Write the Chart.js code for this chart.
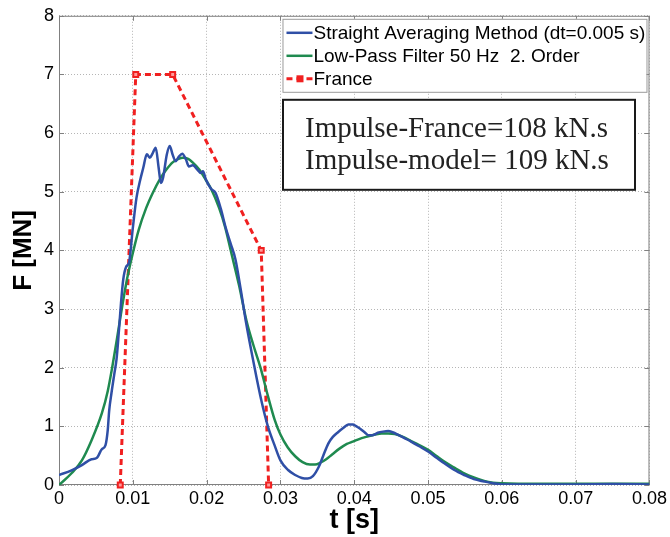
<!DOCTYPE html>
<html>
<head>
<meta charset="utf-8">
<script src="https://cdn.jsdelivr.net/npm/chart.js@4.4.0/dist/chart.umd.min.js"></script>
<style>
  html, body { margin: 0; padding: 0; background: #fff; }
  #wrap { width: 670px; height: 537px; }
</style>
</head>
<body>
<div id="wrap"><canvas id="forceChart"></canvas></div>
<script>
// time [s] / force [MN]
const avgTime = [0, 0.0017, 0.0031, 0.0044, 0.0051, 0.0058, 0.0063, 0.0066, 0.0068, 0.0071, 0.0075, 0.0078,
  0.0081, 0.0084, 0.0087, 0.0091, 0.0095, 0.0100, 0.0105, 0.0110, 0.0114, 0.0119, 0.0123, 0.0127, 0.0131,
  0.0135, 0.0138, 0.0141, 0.0146, 0.0150, 0.0154, 0.0158, 0.0162, 0.0167, 0.0172, 0.0176, 0.0181, 0.0188,
  0.0192, 0.0195, 0.0199, 0.0206, 0.0212, 0.0219, 0.0226, 0.0233, 0.0239, 0.0246, 0.0253, 0.0265, 0.0274,
  0.0283, 0.0292, 0.0300, 0.0310, 0.0320, 0.0329, 0.0337, 0.0344, 0.0352, 0.0358, 0.0365, 0.0371, 0.0378,
  0.0385, 0.0392, 0.0398, 0.0403, 0.0408, 0.0414, 0.0419, 0.0425, 0.0432, 0.0439, 0.0446, 0.0452, 0.0459,
  0.0468, 0.0477, 0.0488, 0.0500, 0.0511, 0.0522, 0.0535, 0.0549, 0.0562, 0.0576, 0.0588, 0.0600, 0.0650,
  0.0700, 0.0750, 0.0800];
const avgForce = [0.17, 0.25, 0.34, 0.44, 0.46, 0.61, 0.68, 0.93, 1.27, 1.56, 1.9, 2.15,
  2.6, 3.1, 3.5, 3.72, 3.8, 4.38, 4.9, 5.2, 5.4, 5.64, 5.58, 5.66, 5.75,
  5.41, 5.15, 5.24, 5.63, 5.78, 5.63, 5.52, 5.59, 5.65, 5.55, 5.43, 5.45, 5.37,
  5.32, 5.35, 5.21, 5.05, 4.98, 4.72, 4.38, 4.1, 3.85, 3.35, 2.8, 2.0, 1.45,
  1.0, 0.68, 0.42, 0.26, 0.17, 0.12, 0.11, 0.15, 0.31, 0.5, 0.71, 0.82, 0.9,
  0.97, 1.03, 1.03, 1.0, 0.96, 0.9, 0.85, 0.85, 0.89, 0.91, 0.92, 0.9, 0.86,
  0.8, 0.74, 0.66, 0.57, 0.47, 0.37, 0.26, 0.17, 0.1, 0.06, 0.03, 0.01, 0.01,
  0.01, 0.015, 0.01];

const lpfTime = [0, 0.0017, 0.0031, 0.0044, 0.0058, 0.0066, 0.0072, 0.0078, 0.0085, 0.0092, 0.0099, 0.0108,
  0.0118, 0.0127, 0.0136, 0.0145, 0.0154, 0.0162, 0.0168, 0.0175, 0.0181, 0.0190, 0.0199, 0.0206, 0.0217,
  0.0225, 0.0233, 0.0244, 0.0254, 0.0263, 0.0273, 0.0283, 0.0292, 0.0300, 0.0310, 0.0320, 0.0330, 0.0340,
  0.0347, 0.0354, 0.0362, 0.0370, 0.0380, 0.0390, 0.0398, 0.0410, 0.0419, 0.0428, 0.0437, 0.0446, 0.0455,
  0.0466, 0.0477, 0.0488, 0.0500, 0.0511, 0.0522, 0.0535, 0.0549, 0.0562, 0.0576, 0.0588, 0.0600, 0.0650,
  0.0700, 0.0750, 0.0800];
const lpfForce = [0, 0.2, 0.42, 0.76, 1.22, 1.6, 2.0, 2.45, 3.0, 3.5, 3.9, 4.35,
  4.72, 4.98, 5.2, 5.37, 5.5, 5.56, 5.58, 5.56, 5.5, 5.38, 5.2, 5.05, 4.72,
  4.4, 3.98, 3.4, 2.8, 2.4, 2.0, 1.52, 1.12, 0.86, 0.64, 0.49, 0.39, 0.35,
  0.35, 0.38, 0.44, 0.52, 0.62, 0.7, 0.74, 0.8, 0.83, 0.86, 0.88, 0.88, 0.87,
  0.82, 0.75, 0.68, 0.6, 0.5, 0.4, 0.3, 0.2, 0.13, 0.07, 0.04, 0.03, 0.02,
  0.02, 0.02, 0.02];

const franceTime = [0.0083, 0.0104, 0.0154, 0.0274, 0.0284];
const franceForce = [0, 7, 7, 4, 0];

const seriesLabels = ["Straight Averaging Method (dt=0.005 s)", "Low-Pass Filter 50 Hz  2. Order", "France"];
const impulseLines = ["Impulse-France=108 kN.s", "Impulse-model= 109 kN.s"];
const xTicks = [0, 0.01, 0.02, 0.03, 0.04, 0.05, 0.06, 0.07, 0.08];
const xTickLabels = ["0", "0.01", "0.02", "0.03", "0.04", "0.05", "0.06", "0.07", "0.08"];
const yTicks = [0, 1, 2, 3, 4, 5, 6, 7, 8];

const toPoints = (xs, ys) => xs.map((x, i) => ({ x, y: ys[i] }));

const SANS = "'Liberation Sans', Arial, sans-serif";
const SERIF = "'Liberation Serif', 'Times New Roman', serif";

// axes box with inward MATLAB style ticks
const frameBox = {
  id: "frameBox",
  beforeDatasetsDraw(chart) {
    const { ctx, chartArea: a, scales } = chart;
    ctx.save();
    ctx.strokeStyle = "#808080";
    ctx.lineWidth = 1;
    ctx.strokeRect(a.left + 0.5, a.top + 0.5, a.width - 1, a.height - 1);
    ctx.beginPath();
    xTicks.forEach(v => {
      const px = Math.round(scales.x.getPixelForValue(v)) + 0.5;
      ctx.moveTo(px, a.bottom); ctx.lineTo(px, a.bottom - 5);
      ctx.moveTo(px, a.top); ctx.lineTo(px, a.top + 5);
    });
    yTicks.forEach(v => {
      const py = Math.round(scales.y.getPixelForValue(v)) + 0.5;
      ctx.moveTo(a.left, py); ctx.lineTo(a.left + 5, py);
      ctx.moveTo(a.right, py); ctx.lineTo(a.right - 5, py);
    });
    ctx.stroke();
    ctx.restore();
  }
};

// legend and impulse text box, drawn on top
const boxes = {
  id: "boxes",
  afterDraw(chart) {
    const { ctx, chartArea: a } = chart;
    const ds = chart.data.datasets;
    ctx.save();

    // legend
    const lx = a.right - 367, ly = a.top + 3, lw = 364, lh = 73;
    ctx.fillStyle = "#fff";
    ctx.fillRect(lx, ly, lw, lh);
    ctx.strokeStyle = "#9a9a9a";
    ctx.lineWidth = 1;
    ctx.strokeRect(lx + 0.5, ly + 0.5, lw, lh);
    ctx.font = "19px " + SANS;
    ctx.textBaseline = "middle";
    ds.forEach((d, i) => {
      const cy = ly + 14 + i * 23;
      ctx.strokeStyle = d.borderColor;
      ctx.lineWidth = d.borderWidth;
      ctx.setLineDash(d.borderDash || []);
      ctx.beginPath();
      ctx.moveTo(lx + 4, cy);
      ctx.lineTo(lx + 30, cy);
      ctx.stroke();
      ctx.setLineDash([]);
      if (d.pointRadius > 0) {
        ctx.fillStyle = d.borderColor;
        ctx.fillRect(lx + 14, cy - 3.5, 7, 7);
      }
      ctx.fillStyle = "#000";
      ctx.fillText(d.label, lx + 31, cy + 1);
    });

    // impulse box
    const bx = a.left + 224, by = a.top + 84, bw = 352, bh = 90;
    ctx.fillStyle = "#fff";
    ctx.fillRect(bx, by, bw, bh);
    ctx.strokeStyle = "#1a1a1a";
    ctx.lineWidth = 2;
    ctx.strokeRect(bx, by, bw, bh);
    ctx.fillStyle = "#222";
    ctx.font = "29px " + SERIF;
    ctx.textAlign = "left";
    impulseLines.forEach((t, i) => ctx.fillText(t, bx + 22, by + 30 + i * 32));
    ctx.restore();
  }
};

const chart = new Chart(document.getElementById("forceChart"), {
  type: "scatter",
  data: {
    datasets: [
      {
        label: seriesLabels[0],
        data: toPoints(avgTime, avgForce),
        showLine: true,
        borderColor: "#2f4fa6",
        borderWidth: 2.5,
        pointRadius: 0,
        cubicInterpolationMode: "monotone"
      },
      {
        label: seriesLabels[1],
        data: toPoints(lpfTime, lpfForce),
        showLine: true,
        borderColor: "#1f8a4f",
        borderWidth: 2.5,
        pointRadius: 0,
        cubicInterpolationMode: "monotone"
      },
      {
        label: seriesLabels[2],
        data: toPoints(franceTime, franceForce),
        showLine: true,
        borderColor: "#f02020",
        borderWidth: 3,
        borderDash: [6, 4],
        pointStyle: "rect",
        pointRadius: 3.5,
        pointBackgroundColor: "#ff9a9a",
        pointBorderColor: "#f02020",
        pointBorderWidth: 2,
        clip: false
      }
    ]
  },
  plugins: [frameBox, boxes],
  options: {
    responsive: true,
    maintainAspectRatio: false,
    animation: false,
    layout: { padding: { top: 15, right: 19, left: 0, bottom: 0 } },
    plugins: { legend: { display: false }, tooltip: { enabled: false } },
    scales: {
      x: {
        type: "linear",
        min: 0,
        max: 0.08,
        afterBuildTicks: s => { s.ticks = xTicks.map(v => ({ value: v })); },
        afterFit: s => { s.height = 52; },
        ticks: {
          color: "#000",
          font: { family: SANS, size: 18 },
          padding: 3,
          maxRotation: 0,
          callback: (v, i) => xTickLabels[i]
        },
        grid: { color: "#b5b5b5", lineWidth: 1, drawTicks: false },
        border: { display: false, dash: [1, 2] },
        title: {
          display: true,
          text: "t [s]",
          color: "#000",
          font: { family: SANS, size: 27, weight: "bold" },
          padding: { top: 0, bottom: 0 }
        }
      },
      y: {
        type: "linear",
        min: 0,
        max: 8,
        afterBuildTicks: s => { s.ticks = yTicks.map(v => ({ value: v })); },
        afterFit: s => { s.width = 59; },
        ticks: {
          color: "#000",
          font: { family: SANS, size: 18 },
          padding: 5,
          callback: v => String(v)
        },
        grid: { color: "#b5b5b5", lineWidth: 1, drawTicks: false },
        border: { display: false, dash: [1, 2] },
        title: {
          display: true,
          text: "F [MN]",
          color: "#000",
          font: { family: SANS, size: 26, weight: "bold" },
          padding: { top: 8, bottom: 0 }
        }
      }
    }
  }
});
</script>
</body>
</html>
